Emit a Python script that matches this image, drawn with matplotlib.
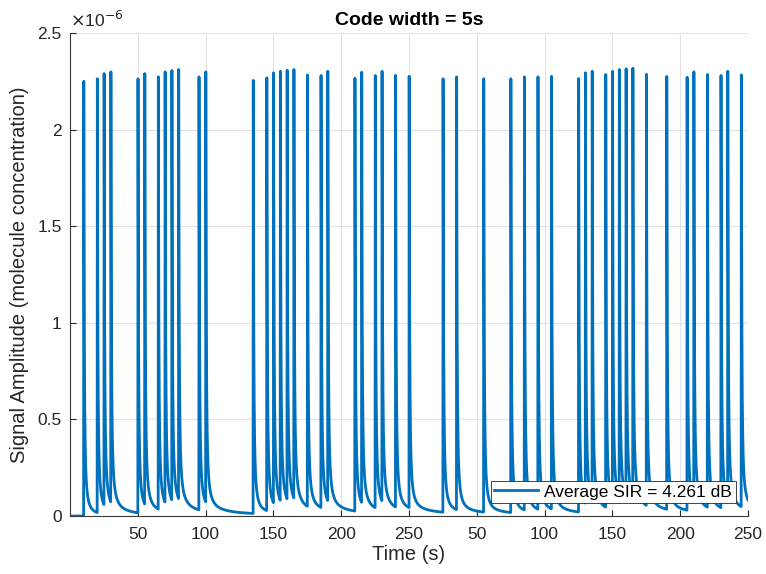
import numpy as np
import matplotlib.pyplot as plt
from matplotlib.ticker import FuncFormatter

plt.rcParams['font.family'] = ['Liberation Sans', 'DejaVu Sans']

# pulse start times (s) and peak amplitudes (x1e-6)
pulse_times = [10, 20, 25, 30, 50, 55, 65, 70, 75, 80, 95, 100,
               135, 145, 150, 155, 160, 165, 175, 185, 190, 210, 215, 225, 230, 240, 250,
               275, 285, 305, 325, 335, 345, 355, 375,
               380, 385, 395, 400, 405, 410, 415, 425, 440, 455, 460, 470, 480, 485, 495]
peak_values = [2.250, 2.263, 2.290, 2.299, 2.263, 2.290, 2.273, 2.299, 2.306, 2.311, 2.273, 2.299,
               2.255, 2.268, 2.294, 2.302, 2.307, 2.311, 2.283, 2.280, 2.302, 2.266, 2.297, 2.280, 2.302, 2.281, 2.276,
               2.263, 2.273, 2.263, 2.263, 2.273, 2.273, 2.276, 2.264,
               2.294, 2.302, 2.285, 2.302, 2.311, 2.315, 2.318, 2.286, 2.275, 2.271, 2.299, 2.285, 2.280, 2.302, 2.283]

x_ticks = [50, 100, 150, 200, 250, 300, 350, 400, 450, 500]
x_tick_labels = ['50', '100', '150', '200', '250'] * 2
y_ticks = [0, 0.5e-6, 1e-6, 1.5e-6, 2e-6, 2.5e-6]

title = 'Code width = 5s'
legend_label = 'Average SIR = 4.261 dB'

# diffusion-like pulse, unit peak at TP seconds after release
TP = 0.15

def pulse(dt):
    out = np.zeros_like(dt, dtype=float)
    m = dt > 0
    out[m] = (dt[m] / TP) ** -1.5 * np.exp(1.5 - 1.5 * TP / dt[m])
    return out

# pick each pulse's own amplitude so the summed peak hits the read value
amps = []
for i, ti in enumerate(pulse_times):
    resid = sum(a * pulse(np.array([ti + TP - tj]))[0] for a, tj in zip(amps, pulse_times[:i]))
    amps.append(peak_values[i] - resid)

t = np.arange(0, 500.0001, 0.01)
sig = np.zeros_like(t)
for a, ti in zip(amps, pulse_times):
    sig += a * pulse(t - ti)
sig = sig * 1e-6

fig = plt.figure(figsize=(7.66, 5.74), dpi=100)
ax = fig.add_axes([0.0914, 0.101, 0.885, 0.8415])

ax.plot(t, sig, color='#0072BD', lw=2, label=legend_label)

ax.set_xlim(0, 500)
ax.set_ylim(0, 2.5e-6)
ax.set_xticks(x_ticks)
ax.set_xticklabels(x_tick_labels)
ax.set_yticks(y_ticks)
ax.yaxis.set_major_formatter(FuncFormatter(lambda v, p: '%g' % round(v / 1e-6, 3)))
ax.text(0.0, 1.006, r'$\times$10$^{\mathsf{-6}}$', transform=ax.transAxes, fontsize=12.5,
        color='#262626', ha='left', va='bottom')

ax.grid(True, color='#E3E3E3', lw=0.8)
ax.set_axisbelow(True)
for s in ['top', 'right']:
    ax.spines[s].set_visible(False)
for s in ['left', 'bottom']:
    ax.spines[s].set_color('#3a3a3a')
    ax.spines[s].set_linewidth(0.8)
ax.tick_params(direction='in', length=4, colors='#262626', labelsize=12.5)
ax.tick_params(axis='x', pad=8)
ax.tick_params(axis='y', pad=6)

ax.set_title(title, fontsize=14, fontweight='bold', color='#000000', pad=6)
ax.set_xlabel('Time (s)', fontsize=14.5, color='#262626', labelpad=2)
ax.set_ylabel('Signal Amplitude (molecule concentration)', fontsize=14.5, color='#262626', labelpad=6)

leg = ax.legend(loc='lower right', bbox_to_anchor=(0.982, 0.027), borderaxespad=0,
                fancybox=False, framealpha=1, edgecolor='#262626', fontsize=12.5,
                handlelength=2.5, borderpad=0.2, handletextpad=0.4)
leg.get_frame().set_linewidth(0.6)

fig.savefig('out.png', dpi=100)
